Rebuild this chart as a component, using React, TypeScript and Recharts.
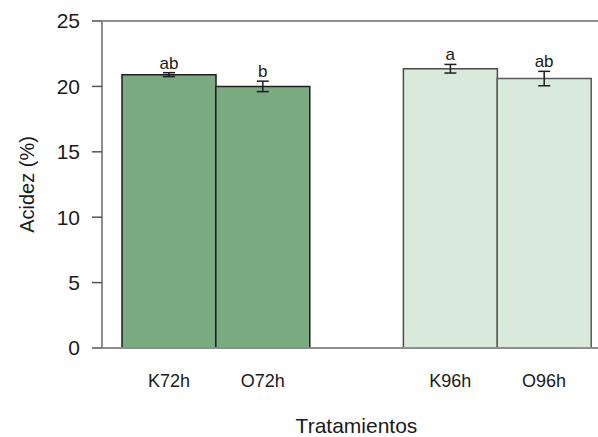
import { ComposedChart, Bar, Line, Cell, XAxis, YAxis, ErrorBar, LabelList, ReferenceLine } from 'recharts';

const treatments = ['K72h', 'O72h', '', 'K96h', 'O96h'];
const acidity = [20.9, 20.0, null, 21.35, 20.6];
const stdErr = [0.15, 0.4, null, 0.33, 0.55];
const letters = ['ab', 'b', '', 'a', 'ab'];
const yTicks = [0, 5, 10, 15, 20, 25];

const FILLS = ['#7aab80', '#7aab80', 'none', '#d9eadb', '#d9eadb'];
const STROKES = ['#1e1e1e', '#1e1e1e', 'none', '#4a4a4a', '#5a5a5a'];

const FONT = '"Liberation Sans", Arial, sans-serif';
const AXIS_GREY = '#8e8e8e';

const data = treatments.map((name, i) => ({
  name,
  value: acidity[i],
  err: stdErr[i],
  top: acidity[i] == null ? null : (acidity[i] as number) + (stdErr[i] as number),
  letter: letters[i],
}));

// rotated y title, centred on the plot height
const YTitle = (props: any) => {
  const vb = props.viewBox || {};
  const cy = vb.y + vb.height / 2;
  return (
    <text x={34} y={cy} transform={`rotate(-90 34 ${cy})`} textAnchor="middle"
      fontSize={20} fontFamily={FONT} fill="#1a1a1a">
      Acidez (%)
    </text>
  );
};

export default function App() {
  return (
    <div style={{ width: 598, height: 437, overflow: 'hidden', background: '#fff' }}>
      <style>{'body{margin:0}'}</style>
      <ComposedChart width={611} height={437} data={data} barCategoryGap={0}
        margin={{ top: 21, right: 0, bottom: 0, left: 0 }}>
        <XAxis dataKey="name" padding={{ left: 20, right: 20 }} interval={0}
          axisLine={{ stroke: AXIS_GREY, strokeWidth: 2 }} tickLine={false} tickSize={0} tickMargin={26}
          height={89} tick={{ fontSize: 18, fontFamily: FONT, fill: '#1a1a1a' }}
          label={{ value: 'Tratamientos', position: 'insideBottom', offset: 4, fontSize: 21, fontFamily: FONT, fill: '#1a1a1a' }} />
        <YAxis type="number" domain={[0, 25]} ticks={yTicks} width={102}
          axisLine={{ stroke: AXIS_GREY, strokeWidth: 2 }} tickLine={{ stroke: '#555', strokeWidth: 1.5 }}
          tickSize={10} tickMargin={12}
          tick={{ fontSize: 21, fontFamily: FONT, fill: '#1a1a1a' }}
          label={<YTitle />} />
        <ReferenceLine y={25} stroke={AXIS_GREY} strokeWidth={2} />
        <Bar dataKey="value" isAnimationActive={false} strokeWidth={1.5}>
          {data.map((_, i) => (
            <Cell key={i} fill={FILLS[i]} stroke={STROKES[i]} />
          ))}
          <ErrorBar dataKey="err" width={6} stroke="#1e1e1e" strokeWidth={1.5} />
        </Bar>
        <Line dataKey="top" stroke="none" dot={false} activeDot={false} isAnimationActive={false}>
          <LabelList dataKey="letter" position="top" offset={4} fontSize={17} fontFamily={FONT} fill="#1a1a1a" />
        </Line>
      </ComposedChart>
    </div>
  );
}
